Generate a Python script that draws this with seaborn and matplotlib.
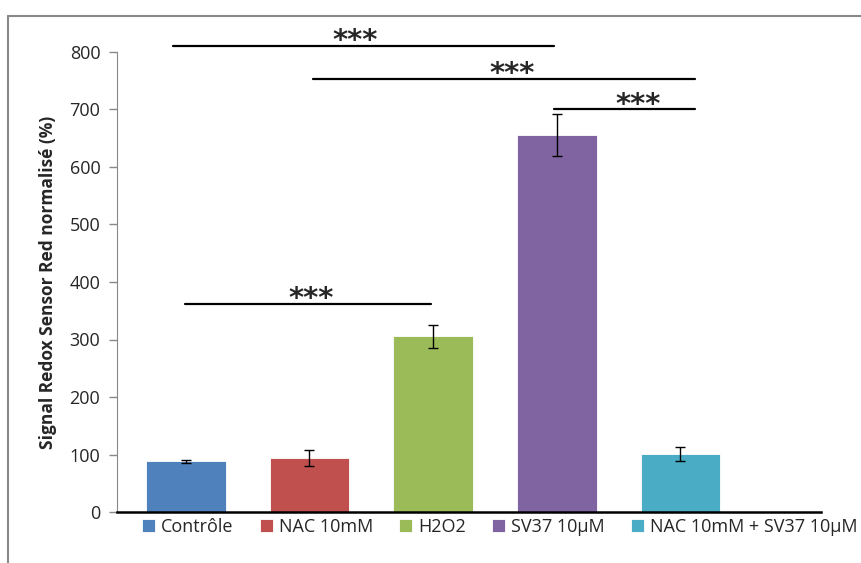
import numpy as np
import matplotlib
matplotlib.use('Agg')
import matplotlib.pyplot as plt
import pandas as pd
import seaborn as sns
from matplotlib.lines import Line2D

sns.set_style("white")
plt.rcParams['font.family'] = ['Open Sans', 'DejaVu Sans']

''' DATA
'''
conditions = ['Contrôle', 'NAC 10mM', 'H2O2', 'SV37 10µM', 'NAC 10mM + SV37 10µM']
signal = [88, 94, 306, 656, 101]
sem = [3, 13.5, 20, 37, 12]
colors = ['#4F81BD', '#C0504D', '#9BBB59', '#8064A2', '#4BACC6']

# significance brackets: (x start, x end, y level, star x)
sig_x0 = [-0.1, 1.03, 2.98, -0.01]
sig_x1 = [2.98, 4.12, 4.12, 1.98]
sig_y = [810, 753, 700, 362]
sig_star = [1.37, 2.64, 3.66, 1.01]
sig_txt = ['***', '***', '***', '***']

df = pd.DataFrame({'Condition': conditions, 'Signal': signal})

fig = plt.figure(figsize=(8.62, 5.63), dpi=100)
ax = fig.add_axes([117/862, 1-512/563, (821-117)/862, (512-52)/563])

sns.barplot(data=df, x='Condition', y='Signal', hue='Condition', palette=colors,
            order=conditions, hue_order=conditions, errorbar=None, width=0.645,
            saturation=1, edgecolor='white', linewidth=0.6, legend=True, ax=ax)
ax.errorbar(np.arange(len(conditions)), signal, yerr=sem, fmt='none',
            ecolor='black', elinewidth=1, capsize=3.3, capthick=1)

#SIGNIFICANCE LINES
for x0, x1, y, xs, t in zip(sig_x0, sig_x1, sig_y, sig_star, sig_txt):
    ax.plot([x0, x1], [y, y], color='black', lw=1.6, clip_on=False)
    ax.text(xs, y - 16, t, ha='center', va='bottom', fontsize=21, fontweight='bold',
            family='DejaVu Sans', clip_on=False)

ax.set_xlim(-0.556, 5.137)
ax.set_ylim(0, 800)
ax.set_yticks(np.arange(0, 801, 100))
ax.set_xticks([])
ax.set_xlabel('')
ax.set_ylabel('Signal Redox Sensor Red normalisé (%)', fontsize=12.5, fontweight='bold', labelpad=9)
plt.setp(ax.get_yticklabels(), size=13)
ax.tick_params(axis='y', left=True, direction='out', length=6, width=1, color='#888888', pad=6)
sns.despine(ax=ax)
ax.spines['left'].set_color('#888888')
ax.spines['bottom'].set_color('black')
ax.spines['bottom'].set_linewidth(1.8)

#LEGEND
handles, labels = ax.get_legend_handles_labels()
ax.get_legend().remove()
fig.legend(handles, labels, loc='center', bbox_to_anchor=(0.58, 1 - 527/563), ncol=5,
           frameon=False, fontsize=13, handlelength=0.7, handleheight=0.7,
           handletextpad=0.35, columnspacing=1.45, borderaxespad=0.)

#CHART BORDER
fig.add_artist(Line2D([8/862, 8/862], [0, 1 - 16/563], color='#888888', lw=1.5))
fig.add_artist(Line2D([8/862, 1], [1 - 16/563, 1 - 16/563], color='#888888', lw=1.5))

plt.savefig('out.png', dpi=100)
